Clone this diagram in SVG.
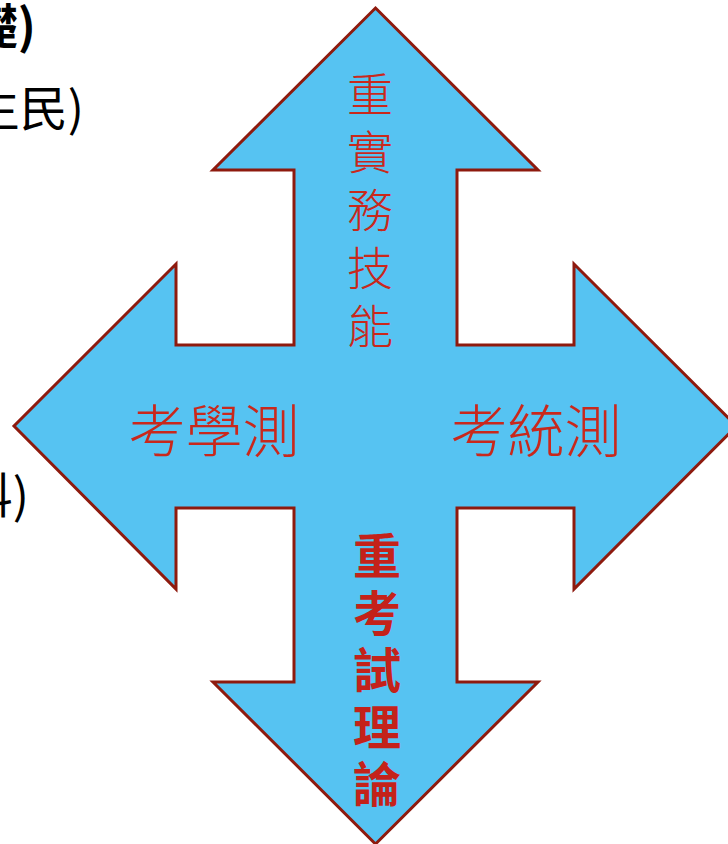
<svg xmlns="http://www.w3.org/2000/svg" width="728" height="844" viewBox="0 0 728 844">
<style>
.arrow{fill:#56C3F2;stroke:#8E1A0E;stroke-width:3;stroke-linejoin:miter}
.cjk{font-family:"Noto Sans CJK TC","Noto Sans CJK SC",sans-serif}
.thin{font-weight:300;fill:#C9281C}
.bold{font-weight:700;fill:#C4221A}
.side{fill:#000}
</style>
<rect width="728" height="844" fill="#fff"/>
<g id="side-text" class="cjk side">
<text x="36" y="44" font-size="48" font-weight="700" text-anchor="end">礎)</text>
<text x="84" y="126" font-size="48" text-anchor="end">生民)</text>
<text x="29" y="513" font-size="48" text-anchor="end">科)</text>
</g>
<g id="cross-arrow">
<polygon class="arrow" points="375.5,8 538,170 457,170 457,345 574,345 574,264 736.5,426 574,589 574,508 457,508 457,682 538,682 375.5,844 213,682 294,682 294,508 176,508 176,589 14,426 176,264 176,345 294,345 294,170 213,170"/>
</g>
<g id="label-top" class="cjk thin" font-size="46" text-anchor="middle">
<text x="370" y="111">重</text>
<text x="370" y="169">實</text>
<text x="370" y="227">務</text>
<text x="370" y="285">技</text>
<text x="370" y="343">能</text>
</g>
<g id="label-left" class="cjk thin" font-size="57" text-anchor="middle">
<text x="214" y="452">考學測</text>
</g>
<g id="label-right" class="cjk thin" font-size="57" text-anchor="middle">
<text x="536" y="452">考統測</text>
</g>
<g id="label-bottom" class="cjk bold" font-size="48" text-anchor="middle">
<text x="377" y="574">重</text>
<text x="377" y="631">考</text>
<text x="377" y="688">試</text>
<text x="377" y="745">理</text>
<text x="377" y="802">論</text>
</g>
<g id="connectors"></g>
</svg>
